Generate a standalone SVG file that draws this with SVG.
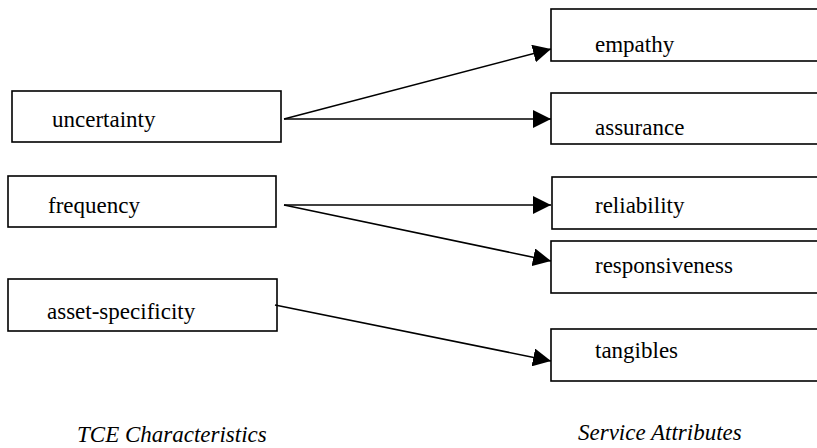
<svg xmlns="http://www.w3.org/2000/svg" width="817" height="448" viewBox="0 0 817 448">
<defs>
<marker id="ah" markerUnits="userSpaceOnUse" markerWidth="18" markerHeight="18" viewBox="0 0 18 18" refX="18" refY="9" orient="auto">
<path d="M0,0 L18,9 L0,18 Z" fill="#000"/>
</marker>
</defs>
<style>
rect { fill: #fff; stroke: #000; stroke-width: 1.6; }
text { font-family: 'Times New Roman', 'Liberation Serif', Tinos, 'DejaVu Serif', serif; font-size: 23px; fill: #000; }
.cap { font-style: italic; }
.conn line { stroke: #000; stroke-width: 1.6; marker-end: url(#ah); }
</style>
<rect x="0" y="0" width="817" height="448" style="fill:#fff;stroke:none"/>
<g id="uncertainty"><rect x="12" y="91" width="269" height="51"/><text x="52" y="127">uncertainty</text></g>
<g id="frequency"><rect x="8" y="176" width="268" height="51"/><text x="48" y="213">frequency</text></g>
<g id="asset-specificity"><rect x="8" y="279" width="269" height="52"/><text x="47" y="319">asset-specificity</text></g>
<g id="empathy"><rect x="551" y="9" width="280" height="52"/><text x="595" y="52">empathy</text></g>
<g id="assurance"><rect x="551" y="93" width="280" height="51"/><text x="595" y="135">assurance</text></g>
<g id="reliability"><rect x="552" y="177" width="280" height="52"/><text x="595" y="213">reliability</text></g>
<g id="responsiveness"><rect x="551" y="241" width="280" height="52"/><text x="595" y="273">responsiveness</text></g>
<g id="tangibles"><rect x="551" y="329" width="280" height="52"/><text x="595" y="358">tangibles</text></g>
<text class="cap" x="77" y="442">TCE Characteristics</text>
<text class="cap" x="578" y="440">Service Attributes</text>
<g class="conn">
<line x1="284" y1="119" x2="551" y2="49"/>
<line x1="284" y1="119" x2="551" y2="119"/>
<line x1="284" y1="205" x2="551" y2="205"/>
<line x1="284" y1="205" x2="551" y2="261"/>
<line x1="275" y1="305" x2="551" y2="361"/>
</g>
</svg>
